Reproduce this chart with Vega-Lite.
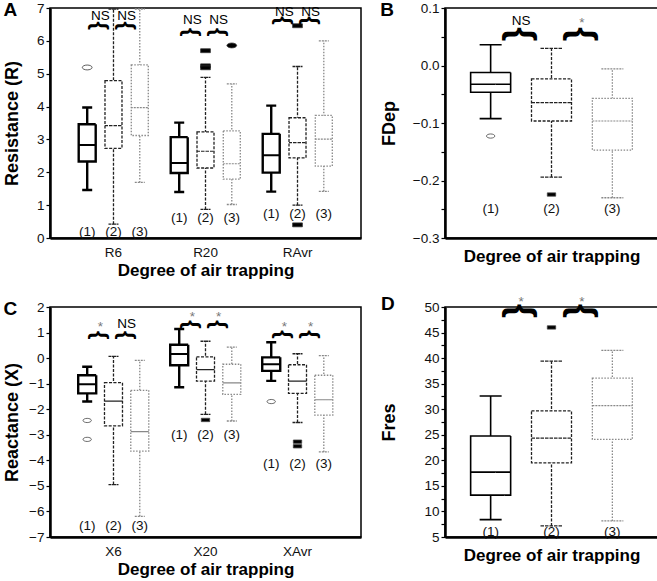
{
"$schema": "https://vega.github.io/schema/vega-lite/v6.json",
"padding": {"left": 2, "top": 0, "right": 2, "bottom": 0},
"config": {
  "font": "Liberation Sans",
  "view": {"stroke": "#000", "strokeWidth": 1.5},
  "axis": {"grid": false, "labelOverlap": false, "domainColor": "#000", "domainWidth": 2.5, "tickColor": "#000", "tickWidth": 1.2, "tickSize": 4, "labelFont": "Liberation Sans", "labelFontSize": 13.5, "labelColor": "#111", "labelPadding": 2, "titleFont": "Liberation Sans", "titleFontSize": 17, "titleFontWeight": "bold", "titleColor": "#000"},
  "axisY": {"titleFontSize": 18}
},
"datasets": {
  "A_box": [
    {"cat":"R6","g":"1","lo":1.46,"q1":2.33,"med":2.83,"q3":3.46,"hi":3.97},
    {"cat":"R6","g":"2","lo":0.42,"q1":2.73,"med":3.42,"q3":4.79,"hi":6.97},
    {"cat":"R6","g":"3","lo":1.69,"q1":3.12,"med":3.97,"q3":5.27,"hi":6.97},
    {"cat":"R20","g":"1","lo":1.40,"q1":1.98,"med":2.28,"q3":3.07,"hi":3.51},
    {"cat":"R20","g":"2","lo":0.87,"q1":2.13,"med":2.64,"q3":3.23,"hi":4.89},
    {"cat":"R20","g":"3","lo":1.02,"q1":1.79,"med":2.26,"q3":3.26,"hi":4.69},
    {"cat":"RAvr","g":"1","lo":1.41,"q1":1.99,"med":2.52,"q3":3.17,"hi":4.03},
    {"cat":"RAvr","g":"2","lo":1.00,"q1":2.44,"med":2.90,"q3":3.66,"hi":5.22},
    {"cat":"RAvr","g":"3","lo":1.42,"q1":2.19,"med":3.01,"q3":3.73,"hi":6.00}
  ],
  "A_out": [
    {"cat":"R6","g":"1","v":5.19},
    {"cat":"R20","g":"2","v":5.70},
    {"cat":"R20","g":"2","v":5.24},
    {"cat":"R20","g":"2","v":5.18},
    {"cat":"R20","g":"3","v":5.86},
    {"cat":"RAvr","g":"2","v":6.46},
    {"cat":"RAvr","g":"2","v":0.40}
  ],
  "A_lab": [
    {"cat":"R6","g":"1","t":"(1)","v":0.18},
    {"cat":"R6","g":"2","t":"(2)","v":0.18},
    {"cat":"R6","g":"3","t":"(3)","v":0.18},
    {"cat":"R20","g":"1","t":"(1)","v":0.61},
    {"cat":"R20","g":"2","t":"(2)","v":0.61},
    {"cat":"R20","g":"3","t":"(3)","v":0.61},
    {"cat":"RAvr","g":"1","t":"(1)","v":0.72},
    {"cat":"RAvr","g":"2","t":"(2)","v":0.72},
    {"cat":"RAvr","g":"3","t":"(3)","v":0.72}
  ],
  "A_br": [
    {"cat":"R6","g":"12","v":6.46,"t":"NS","tv":6.62},
    {"cat":"R6","g":"23","v":6.46,"t":"NS","tv":6.62},
    {"cat":"R20","g":"12","v":6.26,"t":"NS","tv":6.52},
    {"cat":"R20","g":"23","v":6.26,"t":"NS","tv":6.52},
    {"cat":"RAvr","g":"12","v":6.62,"t":"NS","tv":6.76},
    {"cat":"RAvr","g":"23","v":6.62,"t":"NS","tv":6.76}
  ],
  "B_box": [
    {"g":"1","lo":-0.0924,"q1":-0.0465,"med":-0.0326,"q3":-0.0122,"hi":0.036},
    {"g":"2","lo":-0.194,"q1":-0.0965,"med":-0.0645,"q3":-0.0233,"hi":0.0297},
    {"g":"3","lo":-0.230,"q1":-0.147,"med":-0.0965,"q3":-0.057,"hi":-0.0058}
  ],
  "B_out": [
    {"g":"1","v":-0.1227},
    {"g":"2","v":-0.2244}
  ],
  "B_lab": [
    {"g":"1","t":"(1)","v":-0.25},
    {"g":"2","t":"(2)","v":-0.25},
    {"g":"3","t":"(3)","v":-0.25}
  ],
  "B_br": [
    {"g":"12","v":0.0545,"t":"NS","tv":0.0709},
    {"g":"23","v":0.0545,"t":"*","tv":0.067}
  ],
  "C_box": [
    {"cat":"X6","g":"1","lo":-1.70,"q1":-1.38,"med":-1.02,"q3":-0.67,"hi":-0.34},
    {"cat":"X6","g":"2","lo":-4.95,"q1":-2.65,"med":-1.68,"q3":-0.96,"hi":0.07},
    {"cat":"X6","g":"3","lo":-6.19,"q1":-3.64,"med":-2.88,"q3":-1.26,"hi":-0.09},
    {"cat":"X20","g":"1","lo":-1.14,"q1":-0.28,"med":0.16,"q3":0.52,"hi":1.14},
    {"cat":"X20","g":"2","lo":-2.20,"q1":-0.90,"med":-0.45,"q3":0.05,"hi":0.66},
    {"cat":"X20","g":"3","lo":-2.46,"q1":-1.42,"med":-0.97,"q3":-0.24,"hi":0.43},
    {"cat":"XAvr","g":"1","lo":-0.89,"q1":-0.50,"med":-0.24,"q3":0.03,"hi":0.62},
    {"cat":"XAvr","g":"2","lo":-2.52,"q1":-1.38,"med":-0.90,"q3":-0.26,"hi":0.17},
    {"cat":"XAvr","g":"3","lo":-3.67,"q1":-2.23,"med":-1.63,"q3":-0.67,"hi":0.10}
  ],
  "C_out": [
    {"cat":"X6","g":"1","v":-2.44},
    {"cat":"X6","g":"1","v":-3.18},
    {"cat":"X20","g":"2","v":-2.42},
    {"cat":"XAvr","g":"1","v":-1.70},
    {"cat":"XAvr","g":"2","v":-3.27},
    {"cat":"XAvr","g":"2","v":-3.45}
  ],
  "C_lab": [
    {"cat":"X6","g":"1","t":"(1)","v":-6.55},
    {"cat":"X6","g":"2","t":"(2)","v":-6.55},
    {"cat":"X6","g":"3","t":"(3)","v":-6.55},
    {"cat":"X20","g":"1","t":"(1)","v":-3.01},
    {"cat":"X20","g":"2","t":"(2)","v":-3.01},
    {"cat":"X20","g":"3","t":"(3)","v":-3.01},
    {"cat":"XAvr","g":"1","t":"(1)","v":-4.13},
    {"cat":"XAvr","g":"2","t":"(2)","v":-4.13},
    {"cat":"XAvr","g":"3","t":"(3)","v":-4.13}
  ],
  "C_br": [
    {"cat":"X6","g":"12","v":0.89,"t":"*","tv":1.07},
    {"cat":"X6","g":"23","v":0.89,"t":"NS","tv":1.18},
    {"cat":"X20","g":"12","v":1.31,"t":"*","tv":1.47},
    {"cat":"X20","g":"23","v":1.31,"t":"*","tv":1.47},
    {"cat":"XAvr","g":"12","v":0.92,"t":"*","tv":1.05},
    {"cat":"XAvr","g":"23","v":0.92,"t":"*","tv":1.05}
  ],
  "D_box": [
    {"g":"1","lo":8.4,"q1":13.2,"med":17.7,"q3":24.75,"hi":32.6},
    {"g":"2","lo":7.16,"q1":19.52,"med":24.36,"q3":29.66,"hi":39.4},
    {"g":"3","lo":8.14,"q1":24.1,"med":30.7,"q3":36.07,"hi":41.5}
  ],
  "D_out": [
    {"g":"2","v":46.0}
  ],
  "D_lab": [
    {"g":"1","t":"(1)","v":5.98},
    {"g":"2","t":"(2)","v":5.98},
    {"g":"3","t":"(3)","v":5.98}
  ],
  "D_br": [
    {"g":"12","v":49.2,"t":"*","tv":50.26},
    {"g":"23","v":49.2,"t":"*","tv":50.26}
  ]
},
"columns": 2,
"spacing": {"row": 13, "column": 17},
"concat": [
{
  "width": 311, "height": 230,
  "title": {"text": "A", "anchor": "start", "frame": "bounds", "offset": -19, "baseline": "top", "fontSize": 19, "fontWeight": "bold", "color": "#000"},
  "encoding": {
    "x": {"field": "cat", "type": "nominal", "scale": {"domain": ["R6","R20","RAvr"], "paddingInner": 0, "paddingOuter": 0.19}, "axis": {"labelAngle": 0, "ticks": false, "labelPadding": 7, "titlePadding": 4}, "title": "Degree of air trapping"},
    "xOffset": {"field": "g", "type": "nominal", "scale": {"domain": ["1","12","2","23","3"], "paddingInner": 0, "paddingOuter": 1.57}}
  },
  "layer": [
    {"data": {"name": "A_box"}, "mark": {"type": "rule"},
     "encoding": {
       "y": {"field": "lo", "type": "quantitative", "scale": {"domain": [0,7], "nice": false, "zero": false}, "axis": {"values": [0,0.5,1,1.5,2,2.5,3,3.5,4,4.5,5,5.5,6,6.5,7], "tickCount": 100, "format": "d", "labelOverlap": false, "labelExpr": "datum.value % 1 === 0 ? datum.label : ''", "titlePadding": 15}, "title": "Resistance (R)"},
       "y2": {"field": "hi"},
       "stroke": {"field": "g", "type": "nominal", "scale": {"domain": ["1","2","3"], "range": ["#000","#222","#888"]}, "legend": null},
       "strokeDash": {"field": "g", "type": "nominal", "scale": {"domain": ["1","2","3"], "range": [[1,0],[3,1.5],[1.5,1.5]]}, "legend": null},
       "strokeWidth": {"condition": {"test": "datum.g === '1'", "value": 2.4}, "value": 1.3}}},
    {"data": {"name": "A_box"}, "mark": {"type": "bar", "size": 10, "fill": "#fff", "fillOpacity": 0},
     "encoding": {
       "y": {"field": "lo", "type": "quantitative"}, "y2": {"field": "lo"},
       "stroke": {"field": "g", "type": "nominal", "scale": {"domain": ["1","2","3"], "range": ["#000","#222","#888"]}, "legend": null},
       "strokeDash": {"field": "g", "type": "nominal", "scale": {"domain": ["1","2","3"], "range": [[1,0],[3,1.5],[1.5,1.5]]}, "legend": null},
       "strokeWidth": {"condition": {"test": "datum.g === '1'", "value": 2.4}, "value": 1.3}}},
    {"data": {"name": "A_box"}, "mark": {"type": "bar", "size": 10, "fill": "#fff", "fillOpacity": 0},
     "encoding": {
       "y": {"field": "hi", "type": "quantitative"}, "y2": {"field": "hi"},
       "stroke": {"field": "g", "type": "nominal", "scale": {"domain": ["1","2","3"], "range": ["#000","#222","#888"]}, "legend": null},
       "strokeDash": {"field": "g", "type": "nominal", "scale": {"domain": ["1","2","3"], "range": [[1,0],[3,1.5],[1.5,1.5]]}, "legend": null},
       "strokeWidth": {"condition": {"test": "datum.g === '1'", "value": 2.4}, "value": 1.3}}},
    {"data": {"name": "A_box"}, "mark": {"type": "bar", "size": 17, "fill": "#fff", "fillOpacity": 1},
     "encoding": {
       "y": {"field": "q1", "type": "quantitative"}, "y2": {"field": "q3"},
       "stroke": {"field": "g", "type": "nominal", "scale": {"domain": ["1","2","3"], "range": ["#000","#222","#888"]}, "legend": null},
       "strokeDash": {"field": "g", "type": "nominal", "scale": {"domain": ["1","2","3"], "range": [[1,0],[3,1.5],[1.5,1.5]]}, "legend": null},
       "strokeWidth": {"condition": {"test": "datum.g === '1'", "value": 2.4}, "value": 1.3}}},
    {"data": {"name": "A_box"}, "mark": {"type": "bar", "size": 17, "fill": "#fff", "fillOpacity": 0},
     "encoding": {
       "y": {"field": "med", "type": "quantitative"}, "y2": {"field": "med"},
       "stroke": {"field": "g", "type": "nominal", "scale": {"domain": ["1","2","3"], "range": ["#000","#222","#888"]}, "legend": null},
       "strokeDash": {"field": "g", "type": "nominal", "scale": {"domain": ["1","2","3"], "range": [[1,0],[3,1.5],[1.5,1.5]]}, "legend": null},
       "strokeWidth": {"condition": {"test": "datum.g === '1'", "value": 2.0}, "value": 1.2}}},
    {"data": {"name": "A_out"}, "mark": {"type": "point", "filled": true, "size": 95, "stroke": "#333", "strokeWidth": 0.8, "opacity": 1},
     "encoding": {
       "y": {"field": "v", "type": "quantitative"},
       "shape": {"field": "g", "type": "nominal", "scale": {"domain": ["1","2","3"], "range": ["M-1,0A1,0.5,0,1,0,1,0A1,0.5,0,1,0,-1,0Z", "M-1,-0.4H1V0.4H-1Z", "M-1,0A1,0.5,0,1,0,1,0A1,0.5,0,1,0,-1,0Z"]}, "legend": null},
       "fill": {"field": "g", "type": "nominal", "scale": {"domain": ["1","2","3"], "range": ["#fff","#000","#000"]}, "legend": null}}},
    {"data": {"name": "A_lab"}, "mark": {"type": "text", "fontSize": 13.5, "color": "#111", "baseline": "middle"},
     "encoding": {"y": {"field": "v", "type": "quantitative"}, "text": {"field": "t"}}},
    {"data": {"name": "A_br"}, "mark": {"type": "text", "text": "{", "angle": 90, "fontSize": 22, "fontWeight": "bold", "color": "#000", "align": "center", "baseline": "middle"},
     "encoding": {"y": {"field": "v", "type": "quantitative"}}},
    {"data": {"name": "A_br"}, "mark": {"type": "text", "fontSize": 13.5, "baseline": "alphabetic"},
     "encoding": {"y": {"field": "tv", "type": "quantitative"}, "text": {"field": "t"}, "color": {"condition": {"test": "datum.t === '*'", "value": "#777"}, "value": "#000"}}}
  ]
},
{
  "width": 213, "height": 230,
  "title": {"text": "B", "anchor": "start", "frame": "bounds", "offset": -19, "baseline": "top", "fontSize": 19, "fontWeight": "bold", "color": "#000"},
  "encoding": {
    "x": {"field": "g", "type": "nominal", "scale": {"domain": ["1","12","2","23","3"], "paddingInner": 0, "paddingOuter": 1.48}, "axis": {"labels": false, "ticks": false, "titlePadding": 10}, "title": "Degree of air trapping"}
  },
  "layer": [
    {"data": {"name": "B_box"}, "mark": {"type": "rule"},
     "encoding": {
       "y": {"field": "lo", "type": "quantitative", "scale": {"domain": [-0.3,0.1], "nice": false, "zero": false}, "axis": {"values": [-0.3,-0.25,-0.2,-0.15,-0.1,-0.05,0,0.05,0.1], "tickCount": 100, "labelOverlap": false, "format": ".1f", "labelExpr": "abs(round(datum.value*100)) % 10 === 0 ? datum.label : ''", "titlePadding": 14}, "title": "FDep"},
       "y2": {"field": "hi"},
       "stroke": {"field": "g", "type": "nominal", "scale": {"domain": ["1","2","3"], "range": ["#222","#444","#aaa"]}, "legend": null},
       "strokeDash": {"field": "g", "type": "nominal", "scale": {"domain": ["1","2","3"], "range": [[1,0],[3,1.5],[2,1.5]]}, "legend": null},
       "strokeWidth": {"condition": {"test": "datum.g === '1'", "value": 1.6}, "value": 1.3}}},
    {"data": {"name": "B_box"}, "mark": {"type": "bar", "size": 22, "fill": "#fff", "fillOpacity": 0},
     "encoding": {
       "y": {"field": "lo", "type": "quantitative"}, "y2": {"field": "lo"},
       "stroke": {"field": "g", "type": "nominal", "scale": {"domain": ["1","2","3"], "range": ["#222","#444","#aaa"]}, "legend": null},
       "strokeDash": {"field": "g", "type": "nominal", "scale": {"domain": ["1","2","3"], "range": [[1,0],[3,1.5],[2,1.5]]}, "legend": null},
       "strokeWidth": {"condition": {"test": "datum.g === '1'", "value": 1.6}, "value": 1.3}}},
    {"data": {"name": "B_box"}, "mark": {"type": "bar", "size": 22, "fill": "#fff", "fillOpacity": 0},
     "encoding": {
       "y": {"field": "hi", "type": "quantitative"}, "y2": {"field": "hi"},
       "stroke": {"field": "g", "type": "nominal", "scale": {"domain": ["1","2","3"], "range": ["#222","#444","#aaa"]}, "legend": null},
       "strokeDash": {"field": "g", "type": "nominal", "scale": {"domain": ["1","2","3"], "range": [[1,0],[3,1.5],[2,1.5]]}, "legend": null},
       "strokeWidth": {"condition": {"test": "datum.g === '1'", "value": 1.6}, "value": 1.3}}},
    {"data": {"name": "B_box"}, "mark": {"type": "bar", "size": 40, "fill": "#fff", "fillOpacity": 1},
     "encoding": {
       "y": {"field": "q1", "type": "quantitative"}, "y2": {"field": "q3"},
       "stroke": {"field": "g", "type": "nominal", "scale": {"domain": ["1","2","3"], "range": ["#222","#444","#aaa"]}, "legend": null},
       "strokeDash": {"field": "g", "type": "nominal", "scale": {"domain": ["1","2","3"], "range": [[1,0],[3,1.5],[2,1.5]]}, "legend": null},
       "strokeWidth": {"condition": {"test": "datum.g === '1'", "value": 1.6}, "value": 1.3}}},
    {"data": {"name": "B_box"}, "mark": {"type": "bar", "size": 40, "fill": "#fff", "fillOpacity": 0},
     "encoding": {
       "y": {"field": "med", "type": "quantitative"}, "y2": {"field": "med"},
       "stroke": {"field": "g", "type": "nominal", "scale": {"domain": ["1","2","3"], "range": ["#222","#444","#aaa"]}, "legend": null},
       "strokeDash": {"field": "g", "type": "nominal", "scale": {"domain": ["1","2","3"], "range": [[1,0],[3,1.5],[2,1.5]]}, "legend": null},
       "strokeWidth": {"condition": {"test": "datum.g === '1'", "value": 1.6}, "value": 1.2}}},
    {"data": {"name": "B_out"}, "mark": {"type": "point", "filled": true, "size": 70, "stroke": "#444", "strokeWidth": 0.8, "opacity": 1},
     "encoding": {
       "y": {"field": "v", "type": "quantitative"},
       "shape": {"field": "g", "type": "nominal", "scale": {"domain": ["1","2","3"], "range": ["M-1,0A1,0.5,0,1,0,1,0A1,0.5,0,1,0,-1,0Z", "M-1,-0.45H1V0.45H-1Z", "M-1,0A1,0.5,0,1,0,1,0A1,0.5,0,1,0,-1,0Z"]}, "legend": null},
       "fill": {"field": "g", "type": "nominal", "scale": {"domain": ["1","2","3"], "range": ["#fff","#666","#000"]}, "legend": null}}},
    {"data": {"name": "B_lab"}, "mark": {"type": "text", "fontSize": 13.5, "color": "#111", "baseline": "middle"},
     "encoding": {"y": {"field": "v", "type": "quantitative"}, "text": {"field": "t"}}},
    {"data": {"name": "B_br"}, "mark": {"type": "text", "text": "{", "angle": 90, "fontSize": 36, "fontWeight": "bold", "color": "#000", "align": "center", "baseline": "middle"},
     "encoding": {"y": {"field": "v", "type": "quantitative"}}},
    {"data": {"name": "B_br"}, "mark": {"type": "text", "fontSize": 13.5, "baseline": "alphabetic"},
     "encoding": {"y": {"field": "tv", "type": "quantitative"}, "text": {"field": "t"}, "color": {"condition": {"test": "datum.t === '*'", "value": "#777"}, "value": "#000"}}}
  ]
},
{
  "width": 311, "height": 230,
  "title": {"text": "C", "anchor": "start", "frame": "bounds", "offset": -19, "baseline": "top", "fontSize": 19, "fontWeight": "bold", "color": "#000"},
  "encoding": {
    "x": {"field": "cat", "type": "nominal", "scale": {"domain": ["X6","X20","XAvr"], "paddingInner": 0, "paddingOuter": 0.19}, "axis": {"labelAngle": 0, "ticks": false, "labelPadding": 7, "titlePadding": 4}, "title": "Degree of air trapping"},
    "xOffset": {"field": "g", "type": "nominal", "scale": {"domain": ["1","12","2","23","3"], "paddingInner": 0, "paddingOuter": 1.57}}
  },
  "layer": [
    {"data": {"name": "C_box"}, "mark": {"type": "rule"},
     "encoding": {
       "y": {"field": "lo", "type": "quantitative", "scale": {"domain": [-7,2], "nice": false, "zero": false}, "axis": {"values": [-7,-6.5,-6,-5.5,-5,-4.5,-4,-3.5,-3,-2.5,-2,-1.5,-1,-0.5,0,0.5,1,1.5,2], "tickCount": 100, "format": "d", "labelOverlap": false, "labelExpr": "datum.value % 1 === 0 ? datum.label : ''", "titlePadding": 7}, "title": "Reactance (X)"},
       "y2": {"field": "hi"},
       "stroke": {"field": "g", "type": "nominal", "scale": {"domain": ["1","2","3"], "range": ["#000","#222","#999"]}, "legend": null},
       "strokeDash": {"field": "g", "type": "nominal", "scale": {"domain": ["1","2","3"], "range": [[1,0],[3,1.5],[1.5,1.5]]}, "legend": null},
       "strokeWidth": {"condition": {"test": "datum.g === '1'", "value": 2.4}, "value": 1.3}}},
    {"data": {"name": "C_box"}, "mark": {"type": "bar", "size": 10, "fill": "#fff", "fillOpacity": 0},
     "encoding": {
       "y": {"field": "lo", "type": "quantitative"}, "y2": {"field": "lo"},
       "stroke": {"field": "g", "type": "nominal", "scale": {"domain": ["1","2","3"], "range": ["#000","#222","#999"]}, "legend": null},
       "strokeDash": {"field": "g", "type": "nominal", "scale": {"domain": ["1","2","3"], "range": [[1,0],[3,1.5],[1.5,1.5]]}, "legend": null},
       "strokeWidth": {"condition": {"test": "datum.g === '1'", "value": 2.4}, "value": 1.3}}},
    {"data": {"name": "C_box"}, "mark": {"type": "bar", "size": 10, "fill": "#fff", "fillOpacity": 0},
     "encoding": {
       "y": {"field": "hi", "type": "quantitative"}, "y2": {"field": "hi"},
       "stroke": {"field": "g", "type": "nominal", "scale": {"domain": ["1","2","3"], "range": ["#000","#222","#999"]}, "legend": null},
       "strokeDash": {"field": "g", "type": "nominal", "scale": {"domain": ["1","2","3"], "range": [[1,0],[3,1.5],[1.5,1.5]]}, "legend": null},
       "strokeWidth": {"condition": {"test": "datum.g === '1'", "value": 2.4}, "value": 1.3}}},
    {"data": {"name": "C_box"}, "mark": {"type": "bar", "size": 18, "fill": "#fff", "fillOpacity": 1},
     "encoding": {
       "y": {"field": "q1", "type": "quantitative"}, "y2": {"field": "q3"},
       "stroke": {"field": "g", "type": "nominal", "scale": {"domain": ["1","2","3"], "range": ["#000","#222","#999"]}, "legend": null},
       "strokeDash": {"field": "g", "type": "nominal", "scale": {"domain": ["1","2","3"], "range": [[1,0],[3,1.5],[1.5,1.5]]}, "legend": null},
       "strokeWidth": {"condition": {"test": "datum.g === '1'", "value": 2.4}, "value": 1.3}}},
    {"data": {"name": "C_box"}, "mark": {"type": "bar", "size": 18, "fill": "#fff", "fillOpacity": 0},
     "encoding": {
       "y": {"field": "med", "type": "quantitative"}, "y2": {"field": "med"},
       "stroke": {"field": "g", "type": "nominal", "scale": {"domain": ["1","2","3"], "range": ["#000","#222","#999"]}, "legend": null},
       "strokeDash": {"field": "g", "type": "nominal", "scale": {"domain": ["1","2","3"], "range": [[1,0],[3,1.5],[1.5,1.5]]}, "legend": null},
       "strokeWidth": {"condition": {"test": "datum.g === '1'", "value": 2.0}, "value": 1.2}}},
    {"data": {"name": "C_out"}, "mark": {"type": "point", "filled": true, "size": 70, "stroke": "#444", "strokeWidth": 0.8, "opacity": 1},
     "encoding": {
       "y": {"field": "v", "type": "quantitative"},
       "shape": {"field": "g", "type": "nominal", "scale": {"domain": ["1","2","3"], "range": ["M-1,0A1,0.5,0,1,0,1,0A1,0.5,0,1,0,-1,0Z", "M-1,-0.45H1V0.45H-1Z", "M-1,0A1,0.5,0,1,0,1,0A1,0.5,0,1,0,-1,0Z"]}, "legend": null},
       "fill": {"field": "g", "type": "nominal", "scale": {"domain": ["1","2","3"], "range": ["#fff","#666","#000"]}, "legend": null}}},
    {"data": {"name": "C_lab"}, "mark": {"type": "text", "fontSize": 13.5, "color": "#111", "baseline": "middle"},
     "encoding": {"y": {"field": "v", "type": "quantitative"}, "text": {"field": "t"}}},
    {"data": {"name": "C_br"}, "mark": {"type": "text", "text": "{", "angle": 90, "fontSize": 22, "fontWeight": "bold", "color": "#000", "align": "center", "baseline": "middle"},
     "encoding": {"y": {"field": "v", "type": "quantitative"}}},
    {"data": {"name": "C_br"}, "mark": {"type": "text", "fontSize": 13.5, "baseline": "alphabetic"},
     "encoding": {"y": {"field": "tv", "type": "quantitative"}, "text": {"field": "t"}, "color": {"condition": {"test": "datum.t === '*'", "value": "#777"}, "value": "#000"}}}
  ]
},
{
  "width": 213, "height": 230,
  "title": {"text": "D", "anchor": "start", "frame": "bounds", "offset": -19, "baseline": "top", "fontSize": 19, "fontWeight": "bold", "color": "#000"},
  "encoding": {
    "x": {"field": "g", "type": "nominal", "scale": {"domain": ["1","12","2","23","3"], "paddingInner": 0, "paddingOuter": 1.48}, "axis": {"labels": false, "ticks": false, "titlePadding": 10}, "title": "Degree of air trapping"}
  },
  "layer": [
    {"data": {"name": "D_box"}, "mark": {"type": "rule"},
     "encoding": {
       "y": {"field": "lo", "type": "quantitative", "scale": {"domain": [5,50], "nice": false, "zero": false}, "axis": {"values": [5,7.5,10,12.5,15,17.5,20,22.5,25,27.5,30,32.5,35,37.5,40,42.5,45,47.5,50], "tickCount": 100, "format": "d", "labelOverlap": false, "labelExpr": "datum.value % 5 === 0 ? datum.label : ''", "titlePadding": 25}, "title": "Fres"},
       "y2": {"field": "hi"},
       "stroke": {"field": "g", "type": "nominal", "scale": {"domain": ["1","2","3"], "range": ["#222","#444","#aaa"]}, "legend": null},
       "strokeDash": {"field": "g", "type": "nominal", "scale": {"domain": ["1","2","3"], "range": [[1,0],[3,1.5],[2,1.5]]}, "legend": null},
       "strokeWidth": {"condition": {"test": "datum.g === '1'", "value": 1.6}, "value": 1.3}}},
    {"data": {"name": "D_box"}, "mark": {"type": "bar", "size": 22, "fill": "#fff", "fillOpacity": 0},
     "encoding": {
       "y": {"field": "lo", "type": "quantitative"}, "y2": {"field": "lo"},
       "stroke": {"field": "g", "type": "nominal", "scale": {"domain": ["1","2","3"], "range": ["#222","#444","#aaa"]}, "legend": null},
       "strokeDash": {"field": "g", "type": "nominal", "scale": {"domain": ["1","2","3"], "range": [[1,0],[3,1.5],[2,1.5]]}, "legend": null},
       "strokeWidth": {"condition": {"test": "datum.g === '1'", "value": 1.6}, "value": 1.3}}},
    {"data": {"name": "D_box"}, "mark": {"type": "bar", "size": 22, "fill": "#fff", "fillOpacity": 0},
     "encoding": {
       "y": {"field": "hi", "type": "quantitative"}, "y2": {"field": "hi"},
       "stroke": {"field": "g", "type": "nominal", "scale": {"domain": ["1","2","3"], "range": ["#222","#444","#aaa"]}, "legend": null},
       "strokeDash": {"field": "g", "type": "nominal", "scale": {"domain": ["1","2","3"], "range": [[1,0],[3,1.5],[2,1.5]]}, "legend": null},
       "strokeWidth": {"condition": {"test": "datum.g === '1'", "value": 1.6}, "value": 1.3}}},
    {"data": {"name": "D_box"}, "mark": {"type": "bar", "size": 40, "fill": "#fff", "fillOpacity": 1},
     "encoding": {
       "y": {"field": "q1", "type": "quantitative"}, "y2": {"field": "q3"},
       "stroke": {"field": "g", "type": "nominal", "scale": {"domain": ["1","2","3"], "range": ["#222","#444","#aaa"]}, "legend": null},
       "strokeDash": {"field": "g", "type": "nominal", "scale": {"domain": ["1","2","3"], "range": [[1,0],[3,1.5],[2,1.5]]}, "legend": null},
       "strokeWidth": {"condition": {"test": "datum.g === '1'", "value": 1.6}, "value": 1.3}}},
    {"data": {"name": "D_box"}, "mark": {"type": "bar", "size": 40, "fill": "#fff", "fillOpacity": 0},
     "encoding": {
       "y": {"field": "med", "type": "quantitative"}, "y2": {"field": "med"},
       "stroke": {"field": "g", "type": "nominal", "scale": {"domain": ["1","2","3"], "range": ["#222","#444","#aaa"]}, "legend": null},
       "strokeDash": {"field": "g", "type": "nominal", "scale": {"domain": ["1","2","3"], "range": [[1,0],[3,1.5],[2,1.5]]}, "legend": null},
       "strokeWidth": {"condition": {"test": "datum.g === '1'", "value": 1.6}, "value": 1.2}}},
    {"data": {"name": "D_out"}, "mark": {"type": "point", "filled": true, "size": 70, "stroke": "#444", "strokeWidth": 0.8, "opacity": 1},
     "encoding": {
       "y": {"field": "v", "type": "quantitative"},
       "shape": {"field": "g", "type": "nominal", "scale": {"domain": ["1","2","3"], "range": ["M-1,0A1,0.5,0,1,0,1,0A1,0.5,0,1,0,-1,0Z", "M-1,-0.55H1V0.55H-1Z", "M-1,0A1,0.5,0,1,0,1,0A1,0.5,0,1,0,-1,0Z"]}, "legend": null},
       "fill": {"field": "g", "type": "nominal", "scale": {"domain": ["1","2","3"], "range": ["#fff","#666","#000"]}, "legend": null}}},
    {"data": {"name": "D_lab"}, "mark": {"type": "text", "fontSize": 13.5, "color": "#111", "baseline": "middle"},
     "encoding": {"y": {"field": "v", "type": "quantitative"}, "text": {"field": "t"}}},
    {"data": {"name": "D_br"}, "mark": {"type": "text", "text": "{", "angle": 90, "fontSize": 36, "fontWeight": "bold", "color": "#000", "align": "center", "baseline": "middle"},
     "encoding": {"y": {"field": "v", "type": "quantitative"}}},
    {"data": {"name": "D_br"}, "mark": {"type": "text", "fontSize": 13.5, "baseline": "alphabetic"},
     "encoding": {"y": {"field": "tv", "type": "quantitative"}, "text": {"field": "t"}, "color": {"condition": {"test": "datum.t === '*'", "value": "#777"}, "value": "#000"}}}
  ]
}
]
}
